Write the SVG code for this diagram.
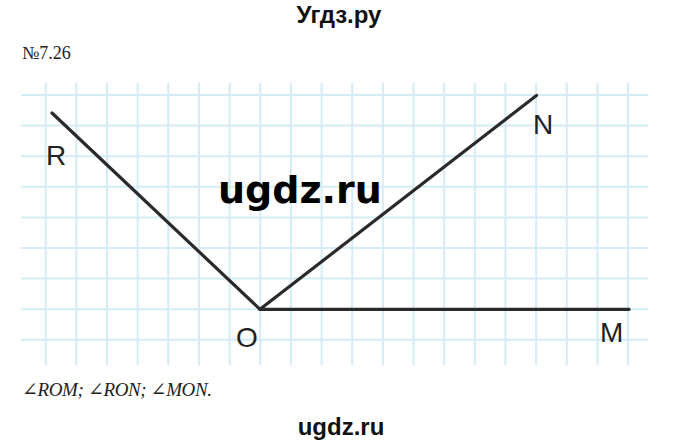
<svg xmlns="http://www.w3.org/2000/svg" width="680" height="446" viewBox="0 0 680 446">
<style>
.grid line{stroke:#d5ecf6;stroke-width:2}
.ray{stroke:#2a2a2a;stroke-width:3.2;stroke-linecap:round;fill:none}
.hand{font-family:"Liberation Sans","DejaVu Sans",sans-serif;fill:#222;font-size:28px}
.head{font-family:"Liberation Sans",Arial,sans-serif;font-weight:bold;font-size:24px;fill:#111;text-anchor:middle}
</style>
<rect width="680" height="446" fill="#fff"/>
<text class="head" x="339" y="23">Угдз.ру</text>
<text x="22" y="59" font-family="'Liberation Serif','DejaVu Serif',serif" font-size="18" fill="#222">№7.26</text>
<g class="grid" id="grid">
<line x1="21" y1="95" x2="648" y2="95"/>
<line x1="21" y1="125.6" x2="648" y2="125.6"/>
<line x1="21" y1="156.2" x2="648" y2="156.2"/>
<line x1="21" y1="186.8" x2="648" y2="186.8"/>
<line x1="21" y1="217.4" x2="648" y2="217.4"/>
<line x1="21" y1="248" x2="648" y2="248"/>
<line x1="21" y1="278.6" x2="648" y2="278.6"/>
<line x1="21" y1="309.2" x2="648" y2="309.2"/>
<line x1="21" y1="339.8" x2="648" y2="339.8"/>
<line x1="45.7" y1="83" x2="45.7" y2="365"/>
<line x1="76.35" y1="83" x2="76.35" y2="365"/>
<line x1="107" y1="83" x2="107" y2="365"/>
<line x1="137.65" y1="83" x2="137.65" y2="365"/>
<line x1="168.3" y1="83" x2="168.3" y2="365"/>
<line x1="198.95" y1="83" x2="198.95" y2="365"/>
<line x1="229.6" y1="83" x2="229.6" y2="365"/>
<line x1="260.25" y1="83" x2="260.25" y2="365"/>
<line x1="290.9" y1="83" x2="290.9" y2="365"/>
<line x1="321.55" y1="83" x2="321.55" y2="365"/>
<line x1="352.2" y1="83" x2="352.2" y2="365"/>
<line x1="382.85" y1="83" x2="382.85" y2="365"/>
<line x1="413.5" y1="83" x2="413.5" y2="365"/>
<line x1="444.15" y1="83" x2="444.15" y2="365"/>
<line x1="474.8" y1="83" x2="474.8" y2="365"/>
<line x1="505.45" y1="83" x2="505.45" y2="365"/>
<line x1="536.1" y1="83" x2="536.1" y2="365"/>
<line x1="566.75" y1="83" x2="566.75" y2="365"/>
<line x1="597.4" y1="83" x2="597.4" y2="365"/>
<line x1="628" y1="83" x2="628" y2="365"/>
</g>
<g id="connectors">
<line class="ray" x1="52" y1="113" x2="260" y2="309.3"/>
<line class="ray" x1="260" y1="309.3" x2="536.5" y2="95.5"/>
<line class="ray" x1="260" y1="309.3" x2="629" y2="309.3"/>
</g>
<g id="R"><text class="hand" x="46" y="165">R</text></g>
<g id="N"><text class="hand" x="533" y="134">N</text></g>
<g id="O"><text class="hand" x="236" y="347" font-size="31">O</text></g>
<g id="M"><text class="hand" x="600" y="342">M</text></g>
<text x="218" y="203" font-family="'DejaVu Sans',sans-serif" font-weight="bold" font-size="38" fill="#000">ugdz.ru</text>
<text x="22" y="396" font-family="'Liberation Serif','DejaVu Serif',serif" font-style="italic" font-size="19" fill="#222" textLength="190" lengthAdjust="spacing">∠ROM; ∠RON; ∠MON.</text>
<text class="head" x="341" y="435">ugdz.ru</text>
</svg>
